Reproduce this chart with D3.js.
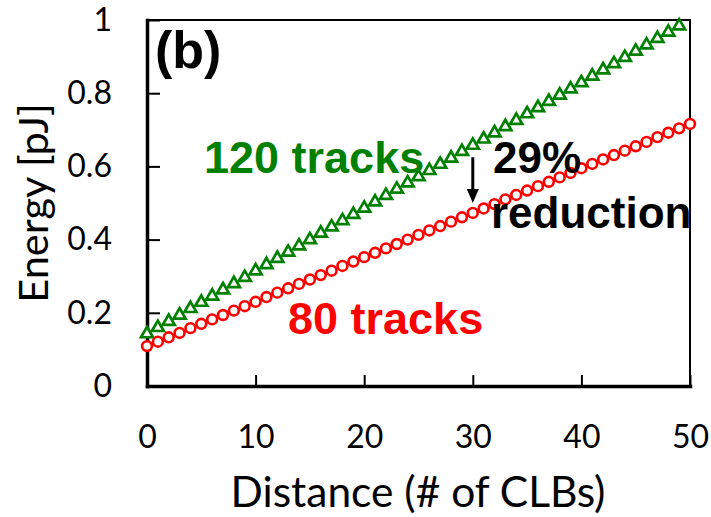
<!DOCTYPE html>
<html>
<head>
<meta charset="utf-8">
<script src="https://cdn.jsdelivr.net/npm/d3@7"></script>
<style>
  html, body { margin: 0; padding: 0; background: #fff; }
  svg { display: block; }
</style>
</head>
<body>
<svg id="chart" width="711" height="517"></svg>
<script>
// Interconnect energy vs. routing distance for two channel widths
const energy120 = [
  0.145, 0.162, 0.179, 0.196, 0.214, 0.231, 0.248, 0.265, 0.282, 0.299,
  0.317, 0.334, 0.351, 0.368, 0.385, 0.402, 0.420, 0.437, 0.454, 0.471,
  0.488, 0.505, 0.523, 0.540, 0.557, 0.574, 0.591, 0.608, 0.625, 0.643,
  0.660, 0.677, 0.694, 0.711, 0.728, 0.746, 0.763, 0.780, 0.797, 0.814,
  0.831, 0.849, 0.866, 0.883, 0.900, 0.917, 0.934, 0.952, 0.969, 0.986
];
const energy80 = [
  0.109, 0.121, 0.133, 0.145, 0.158, 0.170, 0.182, 0.194, 0.206, 0.218,
  0.230, 0.243, 0.255, 0.267, 0.279, 0.291, 0.303, 0.315, 0.328, 0.340,
  0.352, 0.364, 0.376, 0.388, 0.400, 0.413, 0.425, 0.437, 0.449, 0.461,
  0.473, 0.485, 0.497, 0.510, 0.522, 0.534, 0.546, 0.558, 0.570, 0.582,
  0.595, 0.607, 0.619, 0.631, 0.643, 0.655, 0.667, 0.680, 0.692, 0.704,
  0.716
];
const xTicks = [0, 10, 20, 30, 40, 50];
const yTicks = [0, 0.2, 0.4, 0.6, 0.8, 1];
// Annotation arrow: distance and energy span
const arrowAt = 30;
const arrowFrom = 0.625;
const arrowTo = 0.50;

const svg = d3.select("#chart");
const plotL = 147, plotR = 690, plotT = 20, plotB = 386;

const x = d3.scaleLinear().domain([0, 50]).range([plotL, plotR]);
const y = d3.scaleLinear().domain([0, 1]).range([plotB, plotT]);

const tickFont = "Lato, 'Open Sans', sans-serif";
const boldFont = "'Liberation Sans', Arial, sans-serif";

// Frame (top and right)
svg.append("path")
  .attr("d", `M${plotL},${plotT}H${plotR}V${plotB}`)
  .attr("fill", "none").attr("stroke", "#000").attr("stroke-width", 2);

// Axes with inward ticks
const gx = svg.append("g").attr("transform", `translate(0,${plotB})`)
  .call(d3.axisBottom(x).tickValues(xTicks).tickSize(-11).tickSizeOuter(0)
        .tickPadding(39).tickFormat(d3.format("d")));
const gy = svg.append("g").attr("transform", `translate(${plotL},0)`)
  .call(d3.axisLeft(y).tickValues(yTicks).tickSize(-13).tickSizeOuter(0)
        .tickPadding(35).tickFormat(d3.format("~g")));

[gx, gy].forEach(g => {
  g.attr("font-family", null).attr("font-size", null);
  g.select(".domain").attr("stroke-width", 3.5).attr("stroke-linecap", "square");
  g.selectAll(".tick line").attr("stroke-width", 2);
  g.selectAll(".tick text").attr("font-family", tickFont)
    .attr("font-size", 32).attr("fill", "#000");
});

// Axis titles
svg.append("text")
  .attr("x", 418).attr("y", 507)
  .attr("text-anchor", "middle")
  .attr("font-family", tickFont).attr("font-size", 42.5)
  .text("Distance (# of CLBs)");
svg.append("text")
  .attr("transform", `translate(48,203) rotate(-90)`)
  .attr("text-anchor", "middle")
  .attr("font-family", tickFont).attr("font-size", 41.5)
  .text("Energy [pJ]");

// 120-track series: hollow triangles
const tri = "M0,-5.5L6,4.8L-6,4.8Z";
svg.append("g").selectAll("path")
  .data(energy120)
  .join("path")
  .attr("d", tri)
  .attr("transform", (d, i) => `translate(${x(i)},${y(d) - 0.5})`)
  .attr("fill", "#fff").attr("stroke", "#008000").attr("stroke-width", 2.7)
  .attr("stroke-linejoin", "miter");

// 80-track series: hollow circles
svg.append("g").selectAll("circle")
  .data(energy80)
  .join("circle")
  .attr("cx", (d, i) => x(i)).attr("cy", d => y(d)).attr("r", 4.9)
  .attr("fill", "#fff").attr("stroke", "#ff0000").attr("stroke-width", 2.6);

// Reduction arrow
const ax = x(arrowAt), ay0 = y(arrowFrom), ay1 = y(arrowTo);
svg.append("line")
  .attr("x1", ax).attr("x2", ax).attr("y1", ay0).attr("y2", ay1 - 12)
  .attr("stroke", "#000").attr("stroke-width", 3);
svg.append("path")
  .attr("d", `M${ax - 6},${ay1 - 14}L${ax + 6},${ay1 - 14}L${ax},${ay1}Z`)
  .attr("fill", "#000");

// Labels
svg.append("text").attr("x", 155).attr("y", 68)
  .attr("font-family", boldFont).attr("font-weight", "bold").attr("font-size", 52)
  .text("(b)");
svg.append("text").attr("x", 204).attr("y", 173)
  .attr("font-family", boldFont).attr("font-weight", "bold").attr("font-size", 45)
  .attr("fill", "#008000").text("120 tracks");
svg.append("text").attr("x", 288).attr("y", 334)
  .attr("font-family", boldFont).attr("font-weight", "bold").attr("font-size", 45)
  .attr("fill", "#ff0000").text("80 tracks");
svg.append("text").attr("x", 493).attr("y", 173)
  .attr("font-family", boldFont).attr("font-weight", "bold").attr("font-size", 44)
  .attr("fill", "#000").text("29%");
svg.append("text").attr("x", 491).attr("y", 228)
  .attr("font-family", boldFont).attr("font-weight", "bold").attr("font-size", 44)
  .attr("fill", "#000").text("reduction");
</script>
</body>
</html>
